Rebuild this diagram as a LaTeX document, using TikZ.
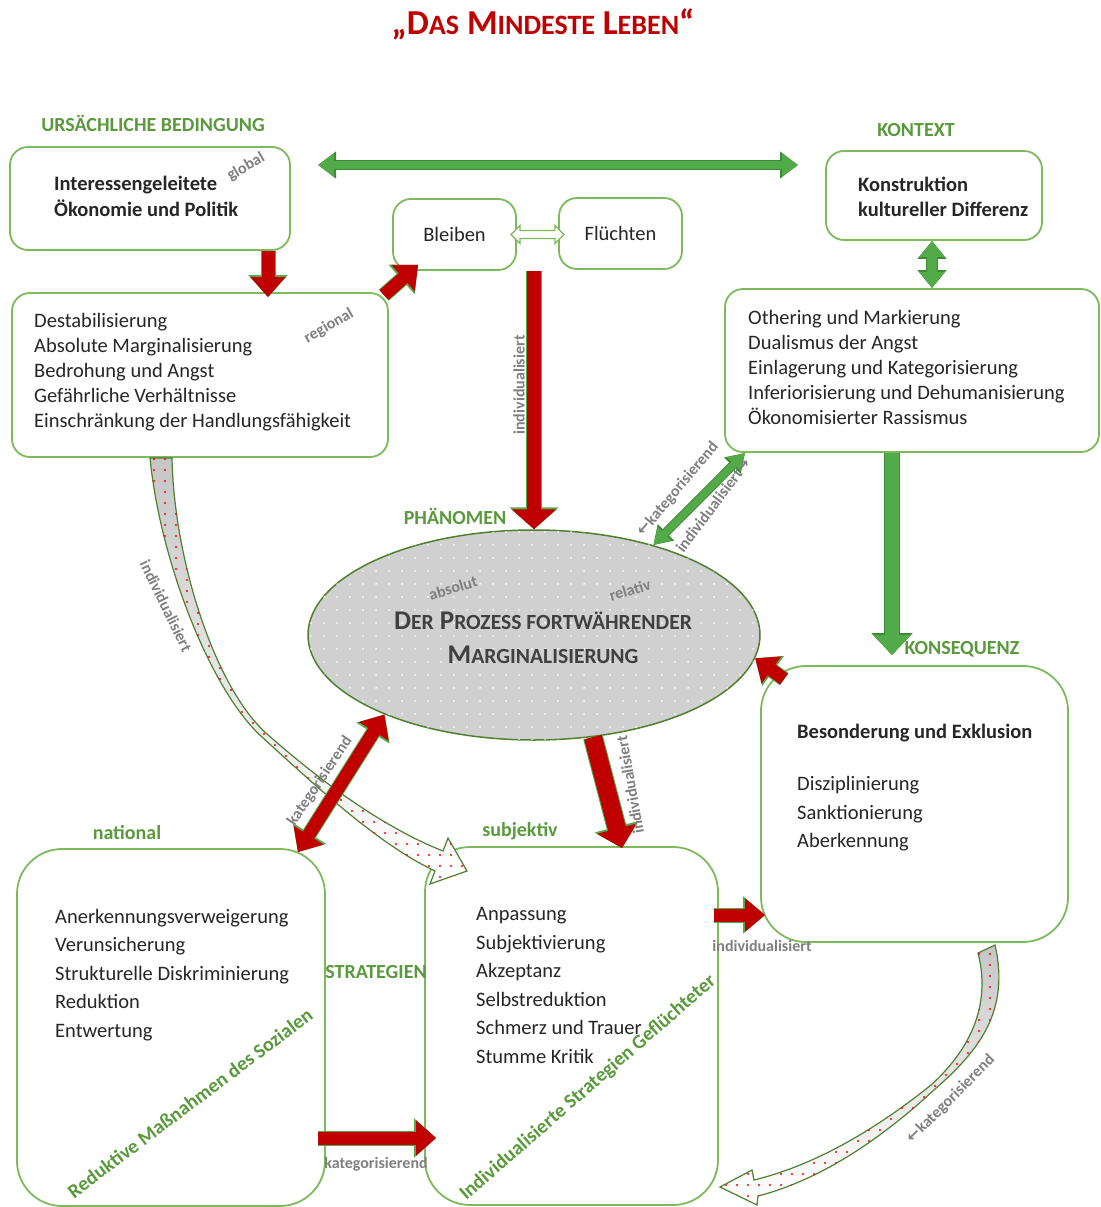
\documentclass[tikz,border=0pt]{standalone}
\usepackage{fontspec}
\setmainfont{Carlito}
\newfontfamily\arrowfont{DejaVu Sans}
\usepackage{amsmath}
\usepackage{graphicx}
\usetikzlibrary{shapes.geometric,arrows.meta,patterns.meta}
\definecolor{titlered}{HTML}{C00000}
\definecolor{arrowred}{HTML}{C00000}
\definecolor{lblgreen}{HTML}{5A9A3C}
\definecolor{boxgreen}{HTML}{7DBA5C}
\definecolor{arrgreen}{HTML}{52AA48}
\definecolor{arrgreendark}{HTML}{3C8A35}
\definecolor{ellgreen}{HTML}{4F7F2F}
\definecolor{ellgray}{HTML}{D0D0D0}
\definecolor{notegray}{HTML}{7F7F7F}
\definecolor{txtdark}{HTML}{262626}
\definecolor{proctext}{HTML}{404040}
\newcommand\smc[1]{\scalebox{0.8}{#1}}
\newcommand\larr{{\arrowfont\bfseries ←}}
\newcommand\rarr{{\arrowfont\bfseries →}}
\tikzset{
  box/.style={draw=boxgreen,line width=1.8pt,rounded corners=18pt,fill=white},
  bigbox/.style={box,rounded corners=45pt},
  body/.style={text=txtdark,align=left,font=\fontsize{20.5}{25}\selectfont,inner sep=0pt},
  lbl/.style={text=lblgreen,font=\fontsize{20}{22}\selectfont\bfseries},
  note/.style={text=notegray,font=\fontsize{16}{18}\selectfont\bfseries,inner sep=1pt},
  ribbon/.style={draw=ellgreen,line width=1.2pt,top color=gray!45,bottom color=white,middle color=gray!20,
    postaction={pattern={Dots[distance=11pt,radius=1.1pt]},pattern color=red}},
  hollow/.style={draw=boxgreen,line width=1.2pt,fill=white},
  redarrow/.style n args={3}{draw=arrowred,line width=#1,-{Triangle[length=20pt,width=#2]},
    preaction={draw=arrgreen,line width=#1+2pt,-{Triangle[length=22pt,width=#3]}}},
  redboth/.style n args={3}{draw=arrowred,line width=#1,
    {Triangle[length=20pt,width=#2]}-{Triangle[length=20pt,width=#2]},
    preaction={draw=arrgreen,line width=#1+2pt,
    {Triangle[length=22pt,width=#3]}-{Triangle[length=22pt,width=#3]}}},
  greenarrow/.style n args={3}{draw=arrgreen,line width=#1,-{Triangle[length=20pt,width=#2]},
    preaction={draw=arrgreendark,line width=#1+2pt,-{Triangle[length=22pt,width=#3]}}},
  greenboth/.style n args={3}{draw=arrgreen,line width=#1,
    {Triangle[length=16pt,width=#2]}-{Triangle[length=16pt,width=#2]},
    preaction={draw=arrgreendark,line width=#1+2pt,
    {Triangle[length=18pt,width=#3]}-{Triangle[length=18pt,width=#3]}}}
}
\begin{document}
\begin{tikzpicture}[x=1pt,y=-1pt]
\useasboundingbox (0,0) rectangle (1100,1207);

% boxes
\node[box,minimum width=280pt,minimum height=103pt] (ioe) at (150,198.5) {};
\node[body,font=\fontsize{20.5}{26}\selectfont\bfseries,anchor=west] (ioe-t) at (54,196)
  {Interessengeleitete\\Ökonomie und Politik};
\node[box,minimum width=376pt,minimum height=164pt] (dest) at (200,375) {};
\node[body,anchor=west] (dest-t) at (34,372) {Destabilisierung\\Absolute Marginalisierung\\
  Bedrohung und Angst\\Gefährliche Verhältnisse\\Einschränkung der Handlungsfähigkeit};
\node[box,body,minimum width=123pt,minimum height=71pt] (bleiben) at (454.5,234.5) {Bleiben};
\node[box,body,minimum width=123pt,minimum height=71pt] (fluechten) at (620.5,233.5) {Flüchten};
\node[box,minimum width=216pt,minimum height=89pt] (konstr) at (934,195.5) {};
\node[body,font=\fontsize{20.5}{25}\selectfont\bfseries,anchor=west] (konstr-t) at (858,197)
  {Konstruktion\\kultureller Differenz};
\node[box,minimum width=374pt,minimum height=163pt] (other) at (912,370.5) {};
\node[body,anchor=west] (other-t) at (748,367) {Othering und Markierung\\Dualismus der Angst\\
  Einlagerung und Kategorisierung\\Inferiorisierung und Dehumanisierung\\Ökonomisierter Rassismus};

% phenomenon
\node[ellipse,draw=ellgreen,line width=1.5pt,fill=ellgray,minimum width=452pt,minimum height=210pt,
  inner sep=0pt,postaction={pattern={Dots[distance=13pt,radius=1pt]},pattern color=white}] (ell) at (534,635) {};
\node[font=\fontsize{27}{34}\selectfont\bfseries,text=proctext,align=center] (proz) at (543,638)
  {D\smc{ER} P\smc{ROZESS FORTWÄHRENDER}\\M\smc{ARGINALISIERUNG}};

\node[bigbox,minimum width=307pt,minimum height=276pt] (bes) at (914.5,804) {};
\node[body,font=\fontsize{20.5}{28.5}\selectfont,anchor=west] (bes-t) at (797,788)
  {\textbf{Besonderung und Exklusion}\\[23.5pt]Disziplinierung\\Sanktionierung\\Aberkennung};
\node[bigbox,minimum width=308pt,minimum height=357pt] (nat) at (171,1027.5) {};
\node[body,font=\fontsize{20.5}{28.5}\selectfont,anchor=west] (nat-t) at (55,975)
  {Anerkennungsverweigerung\\Verunsicherung\\Strukturelle Diskriminierung\\Reduktion\\Entwertung};
\node[bigbox,minimum width=293pt,minimum height=358pt] (subj) at (571.5,1026) {};
\node[body,font=\fontsize{20.5}{28.6}\selectfont,anchor=west] (subj-t) at (476,985.5)
  {Anpassung\\Subjektivierung\\Akzeptanz\\Selbstreduktion\\Schmerz und Trauer\\Stumme Kritik};

% curved ribbons
\draw[ribbon] (150,458) .. controls (160,560) and (210,690) .. (262,737) .. controls (320,790) and (380,845) .. (435,871)
  -- (430,884) -- (467,871) -- (448,838) -- (443,851)
  .. controls (385,828) and (325,785) .. (267,734) .. controls (215,688) and (174,560) .. (172,458) -- cycle;
\draw[ribbon] (995,945) .. controls (1010,1010) and (980,1050) .. (935,1089) .. controls (880,1140) and (820,1180) .. (758,1196)
  -- (757,1205) -- (720,1187) -- (752,1170) -- (754,1180)
  .. controls (815,1165) and (875,1130) .. (931,1085) .. controls (975,1045) and (990,1000) .. (978,953) -- cycle;

% red arrows
\draw[redarrow={13pt}{34pt}{38pt},shorten >=-5pt] (268,0 |- ioe.south) -- (268,0 |- dest.north);
\draw[redarrow={13pt}{34pt}{38pt}] ([shift={(-5pt,-3pt)}]dest.north east) -- ([shift={(26pt,6pt)}]bleiben.south west);
\draw[redarrow={14pt}{44pt}{48pt}] (ell.north |- bleiben.south) -- (ell.north);
\draw[redboth={13pt}{34pt}{38pt}] ([shift={(-28pt,-4pt)}]nat.north east) -- (ell.208);
\draw[redarrow={18pt}{40pt}{44pt},shorten >=-2pt] (ell.300) -- ([xshift=50pt]subj.north);
\draw[redarrow={13pt}{32pt}{36pt}] ([shift={(24pt,-14pt)}]bes.north west) -- (ell.-6);
\draw[redarrow={13pt}{32pt}{36pt},shorten <=-5pt,shorten >=-5pt] (subj.east |- 0,915) -- (bes.west |- 0,915);
\draw[redarrow={13pt}{34pt}{38pt},shorten <=-8pt,shorten >=-12pt] (nat.east |- 0,1138) -- (subj.west |- 0,1138);

% green arrows
\coordinate (gleft) at (318,165);
\coordinate (gright) at (798,165);
\draw[greenboth={8pt}{22pt}{26pt}] (gleft) -- (gright);
\draw[hollow] ([xshift=-6pt]bleiben.east) -- ++(9,-9) -- ++(0,5) -- ++(35,0) -- ++(0,-5) -- ++(9,9)
  -- ++(-9,9) -- ++(0,-5) -- ++(-35,0) -- ++(0,5) -- cycle;
\draw[greenboth={10pt}{24pt}{28pt}] (konstr.south -| 932,0) -- (932,0 |- other.north);
\draw[greenboth={7pt}{18pt}{22pt}] (ell.37) -- ([xshift=21pt]other.south west);
\draw[greenarrow={14pt}{36pt}{40pt},shorten >=10pt] (892,0 |- other.south) -- (892,0 |- bes.north);

% headings
\node[font=\fontsize{35}{36}\selectfont\bfseries,text=titlered] (title) at (543,24)
  {„D\smc{AS} M\smc{INDESTE} L\smc{EBEN}“};
\node[lbl] (ursache) at (153,123) {URSÄCHLICHE BEDINGUNG};
\node[lbl] (kontext) at (916,130) {KONTEXT};
\node[lbl] (phaen) at (455,516) {PHÄNOMEN};
\node[lbl] (konseq) at (962,649) {KONSEQUENZ};
\node[lbl] (national) at (127,833) {national};
\node[lbl] (subjektiv) at (520,831) {subjektiv};
\node[lbl] (strat) at (376,972) {STRATEGIEN};
\node[lbl,rotate=37] (redukt) at (190,1103) {Reduktive Maßnahmen des Sozialen};
\node[lbl,rotate=41] (indstrat) at (588,1088) {Individualisierte Strategien Geflüchteter};

% small notes
\node[note,rotate=30] (glob) at (246,167) {global};
\node[note,rotate=30] (reg) at (329,326) {regional};
\node[note,rotate=17] (abs) at (453,588) {absolut};
\node[note,rotate=17] (rel) at (630,590) {relativ};
\node[note,rotate=90] (ind1) at (519,385) {individualisiert};
\node[note,rotate=50] (kat1) at (678,489) {\larr kategorisierend};
\node[note,rotate=53] (ind2) at (713,505) {individualisiert\rarr};
\node[note,rotate=56] (kat2) at (320,781) {kategorisierend};
\node[note,rotate=-64] (ind3) at (166,606) {individualisiert};
\node[note,rotate=100] (ind4) at (630,785) {individualisiert};
\node[note] (ind5) at (762,946) {individualisiert};
\node[note] (kat3) at (376,1164) {kategorisierend};
\node[note,rotate=45] (kat4) at (951,1099) {\larr kategorisierend};
\end{tikzpicture}
\end{document}
